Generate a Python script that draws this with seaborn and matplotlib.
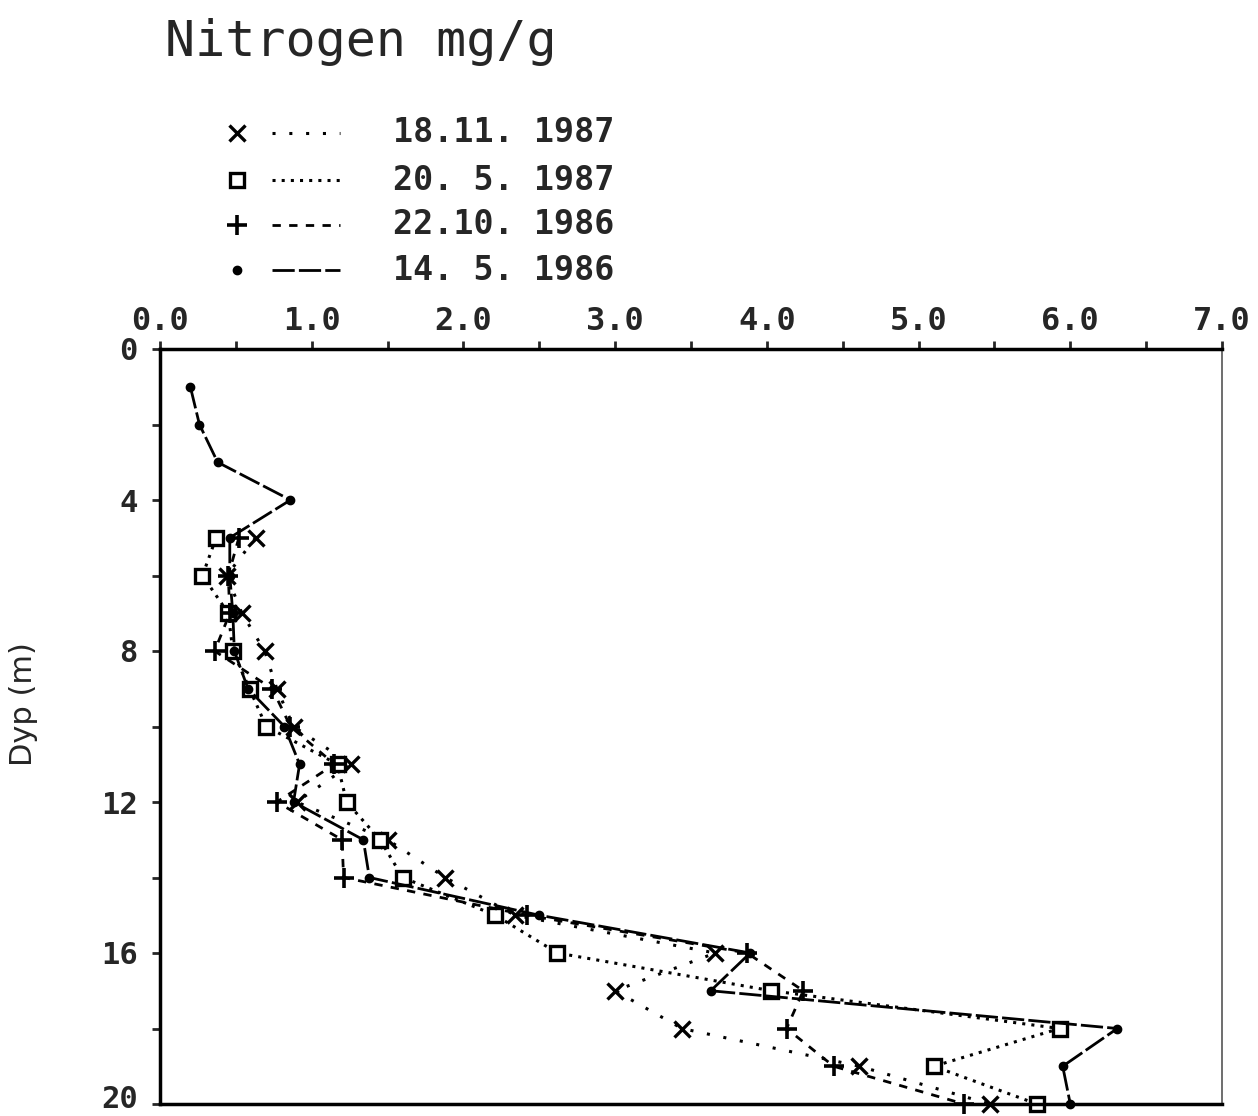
import matplotlib
matplotlib.use("Agg")
import matplotlib.pyplot as plt
import numpy as np
import pandas as pd
import seaborn as sns
from matplotlib.lines import Line2D
from matplotlib.ticker import MultipleLocator, FormatStrFormatter, FuncFormatter

# ------------------------------------------------------------------------
#  Data
# ------------------------------------------------------------------------
depth_1986_may = list(range(1, 21))
depth_others = list(range(5, 21))

n_181187 = [0.63, 0.44, 0.54, 0.69, 0.77, 0.88, 1.26, 0.90, 1.50, 1.88,
            2.34, 3.66, 3.00, 3.44, 4.61, 5.47]
n_200587 = [0.37, 0.28, 0.45, 0.48, 0.59, 0.70, 1.17, 1.23, 1.45, 1.60,
            2.21, 2.62, 4.03, 5.93, 5.10, 5.78]
n_221086 = [0.52, 0.45, 0.46, 0.36, 0.74, 0.86, 1.15, 0.77, 1.20, 1.21,
            2.42, 3.87, 4.24, 4.13, 4.44, 5.30]
n_140586 = [0.20, 0.26, 0.38, 0.86, 0.46, 0.46, 0.48, 0.49, 0.58, 0.82,
            0.92, 0.88, 1.34, 1.38, 2.50, 3.89, 3.63, 6.31, 5.95, 6.00]

labels = ["18.11. 1987", "20. 5. 1987", "22.10. 1986", "14. 5. 1986"]
values = [n_181187, n_200587, n_221086, n_140586]
depths = [depth_others, depth_others, depth_others, depth_1986_may]

# marker / line style per series
styles = [
    dict(marker="x", markersize=12, mew=2.4, linestyle=(0, (1.0, 4.5)), lw=2.2),
    dict(marker="s", markersize=10, mew=2.4, mfc="white", linestyle=(0, (1.0, 2.0)), lw=2.2),
    dict(marker="+", markersize=14, mew=2.6, linestyle=(0, (3.0, 3.0)), lw=2.0),
    dict(marker="o", markersize=6, mew=1.0, linestyle=(0, (8.0, 1.5)), lw=2.0),
]

# ------------------------------------------------------------------------
#  Plot
# ------------------------------------------------------------------------
sns.set_style("white")
plt.rcParams["font.family"] = ["DejaVu Sans Mono", "DejaVu Sans"]

W, H = 1258, 1116
fig = plt.figure(figsize=(W / 100, H / 100), dpi=100)
ax = fig.add_axes([160 / W, 1 - 1104 / H, (1222 - 160) / W, (1104 - 349) / H])

for lab, xs, ys, st in zip(labels, values, depths, styles):
    df = pd.DataFrame({"N": xs, "Dyp": ys})
    sns.lineplot(data=df, x="N", y="Dyp", sort=False, estimator=None,
                 orient="y", color="black", mec="black", ax=ax,
                 clip_on=False, **st)

ax.set_xlim(0, 7)
ax.set_ylim(20, 0)
ax.set_xlabel("")
ax.set_ylabel("Dyp (m)", fontsize=22, family="DejaVu Sans")
ax.yaxis.set_label_coords(-0.115, 0.53)

ax.xaxis.tick_top()
ax.xaxis.set_major_locator(MultipleLocator(1.0))
ax.xaxis.set_minor_locator(MultipleLocator(0.5))
ax.xaxis.set_major_formatter(FormatStrFormatter("%.1f"))
ax.yaxis.set_major_locator(MultipleLocator(4))
ax.yaxis.set_minor_locator(MultipleLocator(2))
# the bottom label (20) sits on the canvas edge; it is drawn separately below
ax.yaxis.set_major_formatter(FuncFormatter(lambda v, p: "" if v >= 20 else f"{v:.0f}"))

ax.tick_params(axis="x", which="both", top=True, bottom=False, direction="out",
               length=6, width=2, pad=3, labelsize=23)
ax.tick_params(axis="y", which="both", left=True, right=False, direction="out",
               length=6, width=2, pad=10, labelsize=22)
for t in ax.get_xticklabels() + ax.get_yticklabels():
    t.set_fontweight("bold")

for side in ["top", "left", "bottom"]:
    ax.spines[side].set_linewidth(2.5)
    ax.spines[side].set_color("black")
ax.spines["right"].set_linewidth(1.2)
ax.spines["right"].set_color("#555555")

# title
fig.text(165 / W, 1 - 42 / H, "Nitrogen mg/g", fontsize=36,
         family="DejaVu Sans Mono", va="center", ha="left")

# legend drawn in figure pixel space: marker, line sample, text
lax = fig.add_axes([0, 0, 1, 1], zorder=-1)
lax.set_xlim(0, W)
lax.set_ylim(H, 0)
lax.axis("off")
row_y = [133, 180, 225, 270]
for lab, st, yy in zip(labels, styles, row_y):
    mk = dict(st)
    ls = mk.pop("linestyle")
    lw = mk.pop("lw")
    lax.add_line(Line2D([237], [yy], color="black", mec="black", linestyle="none", **mk))
    lax.add_line(Line2D([272, 340], [yy], color="black", linestyle=ls, lw=lw))
    lax.text(393, yy, lab, fontsize=24, fontweight="bold",
             family="DejaVu Sans Mono", va="center", ha="left")

lax.text(138, H - 2, "20", fontsize=22, fontweight="bold",
         family="DejaVu Sans Mono", va="bottom", ha="right")

fig.savefig("out.png", dpi=100)
plt.close(fig)
